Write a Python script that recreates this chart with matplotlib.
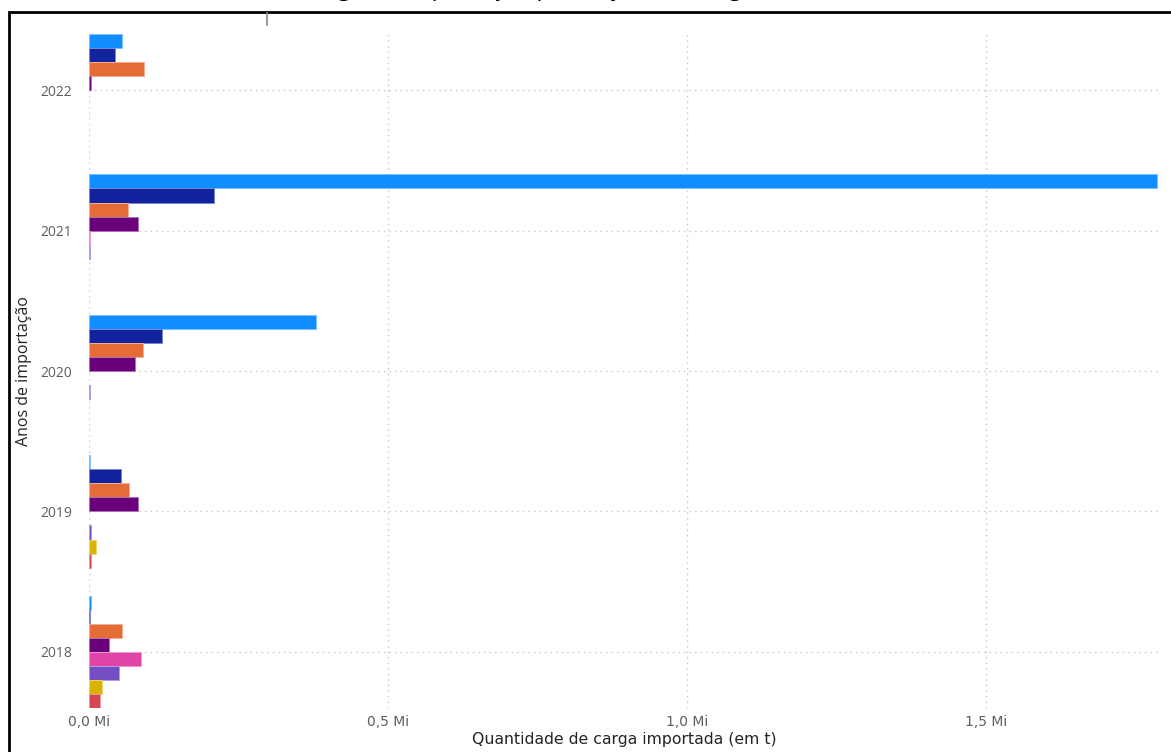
import matplotlib.pyplot as plt
from matplotlib.patches import Rectangle
from matplotlib.lines import Line2D
from matplotlib.colors import to_rgb
import numpy as np

# Data (millions of tonnes)
years = ["2018", "2019", "2020", "2021", "2022"]
series_names = ["Tipo 1", "Tipo 2", "Tipo 3", "Tipo 4", "Tipo 5", "Tipo 6", "Tipo 7", "Tipo 8"]
colors = ["#118DFF", "#12239E", "#E66C37", "#6B007B", "#E044A7", "#744EC2", "#D9B300", "#D64550"]
tipo_1 = [0.003, 0.002, 0.380, 1.786, 0.055]
tipo_2 = [0.001, 0.054, 0.122, 0.209, 0.043]
tipo_3 = [0.055, 0.067, 0.090, 0.065, 0.092]
tipo_4 = [0.034, 0.082, 0.077, 0.082, 0.003]
tipo_5 = [0.087, 0.000, 0.000, 0.001, 0.000]
tipo_6 = [0.050, 0.004, 0.002, 0.001, 0.000]
tipo_7 = [0.022, 0.011, 0.000, 0.000, 0.000]
tipo_8 = [0.018, 0.003, 0.000, 0.000, 0.000]
values = [tipo_1, tipo_2, tipo_3, tipo_4, tipo_5, tipo_6, tipo_7, tipo_8]

x_ticks = [0, 0.5, 1.0, 1.5]
x_tick_labels = ["0,0 Mi", "0,5 Mi", "1,0 Mi", "1,5 Mi"]


def lighten(c, f=0.45):
    r, g, b = to_rgb(c)
    return (r + (1 - r) * f, g + (1 - g) * f, b + (1 - b) * f)


fig = plt.figure(figsize=(11.71, 7.52), dpi=100)
ax = fig.add_axes([89 / 1171, 1 - 708 / 752, (1160 - 89) / 1171, (708 - 34) / 752])

slot = 0.1
ypos = np.arange(len(years))
for i, (name, vals) in enumerate(zip(series_names, values)):
    # no outline on empty bars, otherwise a stray line shows at zero
    lw = [0.7 if v > 0 else 0 for v in vals]
    ax.barh(ypos + 0.4 - slot / 2 - i * slot, vals, height=slot, color=colors[i],
            edgecolor=lighten(colors[i]), linewidth=lw, label=name, zorder=3)

ax.set_xlim(0, (1160 - 89) / 598)
ax.set_ylim(-0.4, 4.4)
ax.set_yticks(ypos)
ax.set_yticklabels(years, fontsize=10, color="#605E5C", family=["Open Sans", "DejaVu Sans"])
ax.set_xticks(x_ticks)
ax.set_xticklabels(x_tick_labels, fontsize=10, color="#605E5C",
                   family=["Liberation Sans Narrow", "DejaVu Sans"])
ax.tick_params(length=0, pad=12)
ax.tick_params(axis="x", pad=5)
for s in ax.spines.values():
    s.set_visible(False)
ax.grid(True, color="#C8C6C4", linestyle=(0, (1, 3)), linewidth=1)
ax.set_axisbelow(True)

ax.set_xlabel("Quantidade de carga importada (em t)", fontsize=11.3, color="#252423",
              family=["Liberation Sans Narrow", "DejaVu Sans"], labelpad=2)
ax.set_ylabel("Anos de importação", fontsize=11.5, color="#252423",
              family=["Open Sans", "DejaVu Sans"], labelpad=6)

# outer frame of the report visual
fig.add_artist(Rectangle((9 / 1171, -0.05), 1.2, 1 - 12 / 752 + 0.05, transform=fig.transFigure,
                         fill=False, edgecolor="black", linewidth=2))
fig.add_artist(Line2D([267 / 1171, 267 / 1171], [1 - 13 / 752, 1 - 25 / 752],
                      transform=fig.transFigure, color="#8A8886", linewidth=1.2))

fig.text(0.45, 1.0 + 5 / 752, "Carga de importação por trajeto de carga", ha="center", va="baseline",
         fontsize=17, color="#000000", family=["Open Sans", "DejaVu Sans"])

fig.savefig("out.png", dpi=100)
